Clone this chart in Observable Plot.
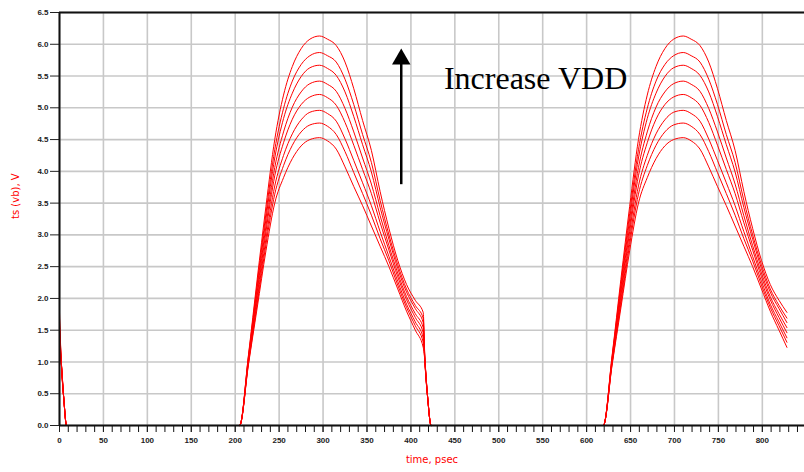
<!DOCTYPE html>
<html><head><meta charset="utf-8">
<script src="https://cdn.jsdelivr.net/npm/d3@7"></script>
<script src="https://cdn.jsdelivr.net/npm/@observablehq/plot@0.6"></script>
<style>body{margin:0;background:#fff}</style>
</head><body><div id="chart"></div>
<script>
// time samples (psec) of the two pulses
const pulse1Times = [205, 215, 225, 235, 245, 255, 265, 275, 285, 296, 305, 315, 325, 335, 345, 355, 365, 375, 385, 395, 405, 414];
const pulse2Times = [619, 629, 639, 649, 659, 669, 679, 689, 699, 710, 719, 729, 739, 749, 759, 769, 779, 789, 799, 809, 819, 828];
// start of trace (tail of previous pulse falling to 0)
const startTimes = [0, 2, 5, 8];
const startDropVolts = [1.0, 0.4, 0];
// fall to zero after first pulse
const endDropTimes = [416, 419, 423];
const endDropVolts = [1.0, 0.45, 0];
// one series per VDD value (lowest to highest)
const vddNames = ["VDD1", "VDD2", "VDD3", "VDD4", "VDD5", "VDD6", "VDD7", "VDD8"];
const curveVolts = [
  [0, 0.95, 1.85, 2.75, 3.50, 3.90, 4.20, 4.40, 4.50, 4.53, 4.48, 4.35, 4.07, 3.76, 3.46, 3.14, 2.82, 2.50, 2.15, 1.80, 1.50, 1.23],
  [0, 0.97, 1.91, 2.85, 3.64, 4.09, 4.41, 4.62, 4.73, 4.76, 4.71, 4.58, 4.31, 3.98, 3.65, 3.31, 2.94, 2.59, 2.21, 1.86, 1.57, 1.31],
  [0, 0.99, 1.97, 2.94, 3.77, 4.25, 4.59, 4.81, 4.93, 4.96, 4.91, 4.79, 4.51, 4.17, 3.82, 3.46, 3.05, 2.66, 2.27, 1.91, 1.63, 1.38],
  [0, 1.01, 2.04, 3.05, 3.93, 4.45, 4.82, 5.05, 5.17, 5.21, 5.16, 5.04, 4.77, 4.41, 4.03, 3.65, 3.19, 2.76, 2.34, 1.98, 1.70, 1.46],
  [0, 1.03, 2.10, 3.14, 4.06, 4.62, 5.01, 5.25, 5.38, 5.42, 5.37, 5.26, 4.99, 4.62, 4.21, 3.80, 3.30, 2.83, 2.40, 2.03, 1.76, 1.54],
  [0, 1.06, 2.17, 3.25, 4.21, 4.83, 5.23, 5.49, 5.63, 5.67, 5.62, 5.51, 5.25, 4.86, 4.42, 3.99, 3.43, 2.93, 2.47, 2.10, 1.84, 1.62],
  [0, 1.08, 2.23, 3.34, 4.34, 4.99, 5.42, 5.68, 5.82, 5.87, 5.82, 5.72, 5.45, 5.05, 4.58, 4.14, 3.54, 3.00, 2.53, 2.15, 1.89, 1.69],
  [0, 1.10, 2.30, 3.45, 4.50, 5.20, 5.65, 5.93, 6.08, 6.13, 6.08, 5.98, 5.72, 5.30, 4.80, 4.33, 3.68, 3.10, 2.60, 2.22, 1.97, 1.78]
];
const xTicks = [0, 50, 100, 150, 200, 250, 300, 350, 400, 450, 500, 550, 600, 650, 700, 750, 800];
const xMinorTicks = d3.range(0, 850, 10);
const yTicks = [0, 0.5, 1.0, 1.5, 2.0, 2.5, 3.0, 3.5, 4.0, 4.5, 5.0, 5.5, 6.0, 6.5];
const xTitle = ["time, psec"];
const yTitle = ["ts (vb), V"];
const arrowData = [{t: 389, from: 3.79, to: 5.70, tip: 5.765}];
const noteData = [{t: 437.6, v: 5.46, label: "Increase VDD"}];

const rows = [];
curveVolts.forEach((volts, k) => {
  const name = vddNames[k];
  rows.push({t: startTimes[0], v: volts[volts.length - 1], k: name});
  startTimes.slice(1).forEach((t, i) => rows.push({t, v: startDropVolts[i], k: name}));
  pulse1Times.forEach((t, i) => rows.push({t, v: volts[i], k: name}));
  endDropTimes.forEach((t, i) => rows.push({t, v: endDropVolts[i], k: name}));
  pulse2Times.forEach((t, i) => rows.push({t, v: volts[i], k: name}));
});

const chart = Plot.plot({
  width: 804, height: 472,
  marginLeft: 59, marginRight: 0, marginTop: 12, marginBottom: 47,
  style: {background: "#fff", fontFamily: "Liberation Sans", overflow: "visible"},
  x: {domain: [0, 848]},
  y: {domain: [0, 6.5]},
  marks: [
    Plot.gridX(xTicks, {stroke: "#c8c8c8", strokeOpacity: 1, strokeWidth: 1.6}),
    Plot.gridY(yTicks, {stroke: "#c8c8c8", strokeOpacity: 1, strokeWidth: 1.6}),
    Plot.ruleY([6.5], {stroke: "#111", strokeWidth: 2}),
    Plot.line(rows, {x: "t", y: "v", z: "k", stroke: "#ff0000", strokeWidth: 1, curve: "monotone-x"}),
    Plot.axisX(xMinorTicks, {tickSize: 7, tickFormat: () => "", label: null, stroke: "#111"}),
    Plot.axisX(xTicks, {tickSize: 7, tickPadding: 5, fontSize: 8, fontWeight: "bold", label: null, color: "#222"}),
    Plot.axisY(yTicks, {tickSize: 9, tickPadding: 2, fontSize: 8, fontWeight: "bold", tickFormat: d3.format(".1f"), label: null, color: "#222"}),
    Plot.ruleX([0], {stroke: "#111", strokeWidth: 2}),
    Plot.ruleY([0], {stroke: "#111", strokeWidth: 2}),
    Plot.text(xTitle, {text: d => d, frameAnchor: "bottom", dy: 37, fill: "#ff0000", fontSize: 10, fontFamily: "DejaVu Sans"}),
    Plot.text(yTitle, {text: d => d, frameAnchor: "left", dx: -44, rotate: -90, fill: "#ff0000", fontSize: 10, fontFamily: "DejaVu Sans"}),
    Plot.ruleX(arrowData, {x: "t", y1: "from", y2: "to", stroke: "#000", strokeWidth: 2.5}),
    Plot.dot(arrowData, {x: "t", y: "tip", symbol: "triangle", r: 6.85, fill: "#000", stroke: null}),
    Plot.text(noteData, {x: "t", y: "v", text: "label", textAnchor: "start", fontSize: 32, fontFamily: "Liberation Serif", fill: "#000"})
  ]
});
document.getElementById("chart").appendChild(chart);
</script>
</body></html>
